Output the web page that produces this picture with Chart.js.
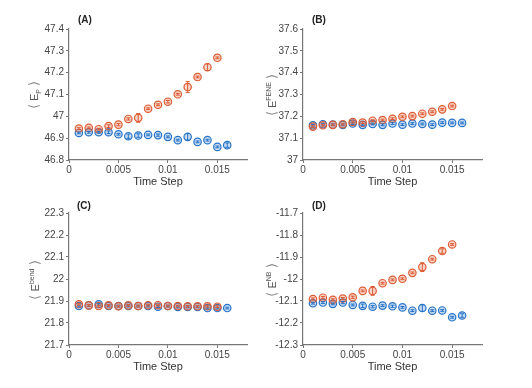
<!DOCTYPE html>
<html>
<head>
<meta charset="utf-8">
<script src="https://cdn.jsdelivr.net/npm/chart.js@4/dist/chart.umd.min.js"></script>
<style>
body { margin:0; width:532px; height:388px; background:#fff; position:relative; overflow:hidden;
       font-family:"Liberation Sans", Arial, sans-serif; }
canvas { position:absolute; left:0; top:0; }
.lbl { position:absolute; font-weight:bold; font-size:10px; color:#222; }
.yt { position:absolute; transform:translate(-50%,-50%) rotate(-90deg); white-space:nowrap;
      color:#555; font-size:11px; }
.yt sub, .yt sup { font-size:7px; }
.br { font-size:13px; color:#888; }
</style>
</head>
<body>
<canvas id="cA" width="532" height="388"></canvas>
<canvas id="cB" width="532" height="388"></canvas>
<canvas id="cC" width="532" height="388"></canvas>
<canvas id="cD" width="532" height="388"></canvas>

<div class="lbl" style="left:78px;top:14px">(A)</div>
<div class="lbl" style="left:312px;top:14px">(B)</div>
<div class="lbl" style="left:77px;top:200px">(C)</div>
<div class="lbl" style="left:312px;top:200px">(D)</div>

<div class="yt" style="left:34px;top:95px"><span class="br">⟨</span> E<sub>P</sub> <span class="br">⟩</span></div>
<div class="yt" style="left:271px;top:95px"><span class="br">⟨</span> E<sup>FENE</sup> <span class="br">⟩</span></div>
<div class="yt" style="left:34px;top:280px"><span class="br">⟨</span> E<sup>bend</sup> <span class="br">⟩</span></div>
<div class="yt" style="left:271px;top:280px"><span class="br">⟨</span> E<sup>NB</sup> <span class="br">⟩</span></div>

<script>
var steps = [0.001,0.002,0.003,0.004,0.005,0.006,0.007,0.008,0.009,0.010,0.011,0.012,0.013,0.014,0.015,0.016];
var xTicks = [0, 0.005, 0.01, 0.015];

// (A) potential energy
var epRed  = [46.944,46.947,46.941,46.955,46.962,46.988,46.993,47.035,47.053,47.067,47.101,47.134,47.180,47.225,47.268];
var epRedErr  = [0.004,0.004,0.004,0.006,0.005,0.005,0.02,0.004,0.004,0.006,0.004,0.025,0.004,0.015,0.004];
var epBlue = [46.924,46.927,46.927,46.927,46.918,46.909,46.912,46.915,46.914,46.906,46.891,46.906,46.883,46.891,46.860,46.868];
var epBlueErr = [0.004,0.004,0.004,0.006,0.004,0.01,0.008,0.004,0.005,0.004,0.004,0.015,0.004,0.004,0.004,0.01];
var epTicks = [46.8,46.9,47,47.1,47.2,47.3,47.4];

// (B) FENE
var feneRed  = [37.153,37.159,37.161,37.164,37.174,37.171,37.180,37.183,37.189,37.198,37.201,37.212,37.221,37.232,37.247];
var feneRedErr  = [0.004,0.004,0.004,0.004,0.004,0.004,0.004,0.004,0.004,0.004,0.004,0.004,0.004,0.004,0.004];
var feneBlue = [37.159,37.164,37.162,37.161,37.167,37.161,37.165,37.161,37.167,37.162,37.167,37.165,37.162,37.171,37.170,37.170];
var feneBlueErr = [0.004,0.004,0.004,0.004,0.004,0.004,0.004,0.004,0.004,0.004,0.004,0.004,0.004,0.004,0.004,0.004];
var feneTicks = [37,37.1,37.2,37.3,37.4,37.5,37.6];

// (C) bending
var bendRed  = [21.885,21.880,21.877,21.880,21.876,21.880,21.877,21.881,21.881,21.877,21.877,21.876,21.876,21.876,21.874];
var bendRedErr  = [0.004,0.004,0.004,0.004,0.004,0.004,0.004,0.004,0.004,0.004,0.004,0.004,0.004,0.004,0.004];
var bendBlue = [21.877,21.880,21.885,21.877,21.877,21.877,21.877,21.877,21.874,21.877,21.873,21.873,21.873,21.868,21.868,21.868];
var bendBlueErr = [0.004,0.004,0.004,0.004,0.004,0.004,0.004,0.004,0.004,0.004,0.004,0.004,0.004,0.004,0.004,0.004];
var bendTicks = [21.7,21.8,21.9,22,22.1,22.2,22.3];

// (D) non-bonded
var nbRed  = [-12.091,-12.085,-12.095,-12.089,-12.083,-12.054,-12.054,-12.019,-12.004,-11.999,-11.972,-11.946,-11.910,-11.873,-11.843];
var nbRedErr  = [0.005,0.005,0.005,0.005,0.005,0.004,0.02,0.004,0.004,0.004,0.004,0.02,0.004,0.01,0.004];
var nbBlue = [-12.110,-12.107,-12.113,-12.107,-12.118,-12.122,-12.126,-12.121,-12.124,-12.129,-12.144,-12.132,-12.144,-12.143,-12.174,-12.166];
var nbBlueErr = [0.004,0.004,0.004,0.005,0.004,0.008,0.005,0.004,0.005,0.004,0.004,0.015,0.004,0.004,0.004,0.008];
var nbTicks = [-12.3,-12.2,-12.1,-12,-11.9,-11.8,-11.7];

var RED = 'rgb(222,92,52)';
var BLUE = 'rgb(38,116,200)';

var errorBars = {
  id: 'errorBars',
  afterDatasetsDraw: function(chart) {
    var ctx = chart.ctx, xs = chart.scales.x, ys = chart.scales.y;
    for (var d = chart.data.datasets.length - 1; d >= 0; d--) {
      var ds = chart.data.datasets[d];
      ctx.save();
      ctx.strokeStyle = ds.borderColor;
      ctx.lineWidth = 1;
      ds.data.forEach(function(p, i) {
        var x = xs.getPixelForValue(p.x);
        var y1 = ys.getPixelForValue(p.y - ds.err[i]);
        var y2 = ys.getPixelForValue(p.y + ds.err[i]);
        ctx.beginPath();
        ctx.moveTo(x, y1); ctx.lineTo(x, y2);
        ctx.moveTo(x - 2, y1); ctx.lineTo(x + 2, y1);
        ctx.moveTo(x - 2, y2); ctx.lineTo(x + 2, y2);
        ctx.stroke();
      });
      ctx.restore();
    }
  }
};

function pts(vals) {
  return vals.map(function(v, i) { return {x: steps[i], y: v}; });
}
function fmt(v) { return String(+v.toFixed(4)); }

function makePanel(id, red, redErr, blue, blueErr, yTicks, L, T, R, B) {
  new Chart(document.getElementById(id), {
    type: 'scatter',
    data: {
      datasets: [
        { data: pts(red), err: redErr, borderColor: RED, backgroundColor: 'rgba(222,92,52,0.25)',
          pointRadius: 3.7, borderWidth: 1.2 },
        { data: pts(blue), err: blueErr, borderColor: BLUE, backgroundColor: 'rgba(38,116,200,0.25)',
          pointRadius: 3.7, borderWidth: 1.2 }
      ]
    },
    options: {
      responsive: false,
      animation: false,
      events: [],
      layout: { padding: { left: L - 40, top: T, right: 532 - R, bottom: 388 - B - 29 } },
      plugins: { legend: { display: false }, tooltip: { enabled: false } },
      scales: {
        x: {
          type: 'linear', min: 0, max: 0.018,
          afterBuildTicks: function(s) { s.ticks = xTicks.map(function(v) { return {value: v}; }); },
          afterFit: function(s) { s.height = 29; },
          ticks: { callback: fmt, color: '#444', font: { size: 10 }, padding: 1, maxRotation: 0 },
          grid: { drawOnChartArea: false, tickLength: 3, color: '#777' },
          border: { color: '#777', width: 1.2 },
          title: { display: true, text: 'Time Step', color: '#333', font: { size: 11 }, padding: { top: 0, bottom: 0 } }
        },
        y: {
          min: yTicks[0], max: yTicks[yTicks.length - 1],
          afterBuildTicks: function(s) { s.ticks = yTicks.map(function(v) { return {value: v}; }); },
          afterFit: function(s) { s.width = 40; },
          ticks: { callback: fmt, color: '#444', font: { size: 10 }, padding: 2 },
          grid: { drawOnChartArea: false, tickLength: 3, color: '#777' },
          border: { color: '#777', width: 1.2 }
        }
      }
    },
    plugins: [errorBars]
  });
}

makePanel('cA', epRed, epRedErr, epBlue, epBlueErr, epTicks, 69, 29, 247, 160);
makePanel('cB', feneRed, feneRedErr, feneBlue, feneBlueErr, feneTicks, 303, 29, 482, 160);
makePanel('cC', bendRed, bendRedErr, bendBlue, bendBlueErr, bendTicks, 69, 213, 247, 345);
makePanel('cD', nbRed, nbRedErr, nbBlue, nbBlueErr, nbTicks, 303, 213, 482, 345);
</script>
</body>
</html>
